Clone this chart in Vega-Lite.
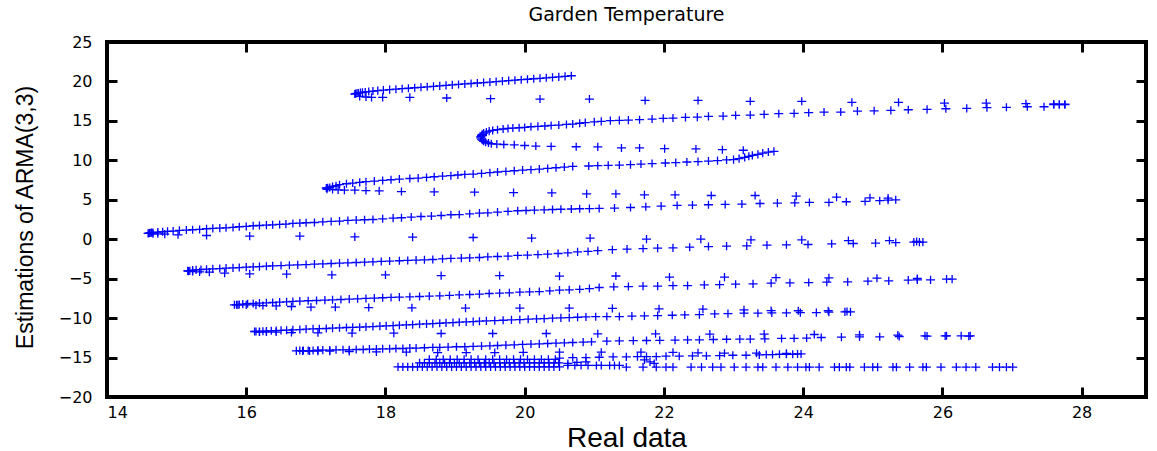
{
"$schema": "https://vega.github.io/schema/vega-lite/v6.json",
"width": 1039, "height": 355,
"autosize": {"type": "none"},
"padding": {"left": 107, "top": 42, "right": 11, "bottom": 54},
"background": "white",
"title": {"text": "Garden Temperature", "font": "DejaVu Sans", "fontSize": 19, "fontWeight": "normal", "color": "black", "offset": -6, "baseline": "alphabetic", "anchor": "middle"},
"config": {"view": {"stroke": "black", "strokeWidth": 4}},
"layer": [
{"data": {"values": [
{"x":17.56,"y":18.40},{"x":17.57,"y":18.45},{"x":17.59,"y":18.50},{"x":17.61,"y":18.53},{"x":17.64,"y":18.58},{"x":17.67,"y":18.62},{"x":17.71,"y":18.67},{"x":17.76,"y":18.72},{"x":17.82,"y":18.78},{"x":17.89,"y":18.84},{"x":17.97,"y":18.90},{"x":18.06,"y":18.96},{"x":18.15,"y":19.02},{"x":18.24,"y":19.08},{"x":18.33,"y":19.14},{"x":18.42,"y":19.20},{"x":18.51,"y":19.26},{"x":18.60,"y":19.32},{"x":18.69,"y":19.38},{"x":18.78,"y":19.44},{"x":18.87,"y":19.50},{"x":18.96,"y":19.56},{"x":19.05,"y":19.62},{"x":19.14,"y":19.68},{"x":19.23,"y":19.74},{"x":19.32,"y":19.80},{"x":19.41,"y":19.86},{"x":19.50,"y":19.92},{"x":19.59,"y":19.98},{"x":19.68,"y":20.04},{"x":19.77,"y":20.10},{"x":19.86,"y":20.16},{"x":19.95,"y":20.22},{"x":20.04,"y":20.28},{"x":20.13,"y":20.34},{"x":20.22,"y":20.40},{"x":20.31,"y":20.46},{"x":20.40,"y":20.52},{"x":20.49,"y":20.58},{"x":20.58,"y":20.64},{"x":20.67,"y":20.72},
{"x":17.63,"y":18.10},{"x":17.72,"y":18.03},{"x":17.80,"y":17.98},{"x":17.96,"y":17.98},{"x":18.35,"y":17.98},{"x":18.88,"y":17.90},{"x":19.51,"y":17.81},{"x":20.22,"y":17.77},{"x":20.93,"y":17.77},{"x":21.73,"y":17.59},{"x":22.49,"y":17.59},{"x":23.24,"y":17.48},{"x":23.98,"y":17.48},{"x":24.70,"y":17.35},{"x":25.37,"y":17.35},{"x":26.03,"y":17.26},{"x":26.63,"y":17.26},{"x":27.20,"y":17.18},{"x":27.60,"y":17.14},{"x":27.68,"y":17.11},{"x":27.76,"y":17.11},
{"x":27.76,"y":17.05},{"x":27.68,"y":17.05},{"x":27.60,"y":17.05},{"x":27.46,"y":16.79},{"x":27.22,"y":16.79},{"x":26.92,"y":16.72},{"x":26.64,"y":16.67},{"x":26.35,"y":16.59},{"x":26.05,"y":16.54},{"x":25.78,"y":16.46},{"x":25.51,"y":16.41},{"x":25.26,"y":16.33},{"x":25.02,"y":16.28},{"x":24.78,"y":16.24},{"x":24.54,"y":16.12},{"x":24.30,"y":16.12},{"x":24.08,"y":16.04},{"x":23.87,"y":15.95},{"x":23.65,"y":15.91},{"x":23.44,"y":15.83},{"x":23.24,"y":15.74},{"x":23.03,"y":15.70},{"x":22.85,"y":15.61},{"x":22.64,"y":15.57},{"x":22.48,"y":15.48},{"x":22.31,"y":15.45},{"x":22.13,"y":15.36},{"x":21.99,"y":15.32},{"x":21.83,"y":15.23},{"x":21.65,"y":15.15},{"x":21.49,"y":15.10},{"x":21.36,"y":15.06},{"x":21.23,"y":15.03},{"x":21.10,"y":14.94},{"x":21.00,"y":14.88},{"x":20.87,"y":14.78},{"x":20.79,"y":14.70},{"x":20.69,"y":14.60},{"x":20.60,"y":14.55},{"x":20.49,"y":14.47},{"x":20.38,"y":14.42},{"x":20.29,"y":14.35},{"x":20.19,"y":14.30},{"x":20.09,"y":14.26},{"x":20.00,"y":14.17},{"x":19.92,"y":14.13},{"x":19.83,"y":14.09},{"x":19.76,"y":14.04},{"x":19.69,"y":13.97},{"x":19.61,"y":13.88},{"x":19.54,"y":13.79},{"x":19.49,"y":13.70},{"x":19.45,"y":13.58},{"x":19.41,"y":13.45},{"x":19.39,"y":13.30},{"x":19.38,"y":13.15},{"x":19.37,"y":13.00},{"x":19.37,"y":12.85},{"x":19.38,"y":12.70},{"x":19.39,"y":12.55},{"x":19.41,"y":12.42},{"x":19.44,"y":12.30},{"x":19.48,"y":12.20},
{"x":19.52,"y":12.10},{"x":19.60,"y":12.06},{"x":19.70,"y":12.01},{"x":19.85,"y":11.97},{"x":20.00,"y":11.88},{"x":20.16,"y":11.81},{"x":20.38,"y":11.76},{"x":20.74,"y":11.72},{"x":21.05,"y":11.70},{"x":21.39,"y":11.57},{"x":21.65,"y":11.57},{"x":22.01,"y":11.48},{"x":22.46,"y":11.44},{"x":22.84,"y":11.35},{"x":23.14,"y":11.28},
{"x":23.58,"y":11.14},{"x":23.50,"y":11.05},{"x":23.42,"y":10.92},{"x":23.35,"y":10.76},{"x":23.27,"y":10.63},{"x":23.22,"y":10.51},{"x":23.16,"y":10.38},{"x":23.08,"y":10.22},{"x":23.00,"y":10.09},{"x":22.90,"y":10.05},{"x":22.77,"y":9.96},{"x":22.64,"y":9.91},{"x":22.49,"y":9.84},{"x":22.33,"y":9.79},{"x":22.17,"y":9.71},{"x":22.02,"y":9.66},{"x":21.83,"y":9.59},{"x":21.67,"y":9.53},{"x":21.52,"y":9.46},{"x":21.36,"y":9.40},{"x":21.20,"y":9.36},{"x":21.05,"y":9.32},{"x":20.92,"y":9.28},{"x":20.69,"y":9.23},{"x":20.57,"y":9.15},{"x":20.45,"y":9.06},{"x":20.33,"y":8.97},{"x":20.21,"y":8.89},{"x":20.09,"y":8.81},{"x":19.97,"y":8.77},{"x":19.85,"y":8.68},{"x":19.73,"y":8.59},{"x":19.61,"y":8.52},{"x":19.50,"y":8.43},{"x":19.38,"y":8.34},{"x":19.26,"y":8.26},{"x":19.14,"y":8.21},{"x":19.04,"y":8.14},{"x":18.94,"y":8.05},{"x":18.82,"y":8.01},{"x":18.70,"y":7.92},{"x":18.59,"y":7.83},{"x":18.47,"y":7.75},{"x":18.35,"y":7.70},{"x":18.20,"y":7.63},{"x":18.08,"y":7.54},{"x":17.96,"y":7.45},{"x":17.84,"y":7.37},{"x":17.72,"y":7.29},{"x":17.63,"y":7.20},{"x":17.53,"y":7.12},{"x":17.44,"y":7.03},{"x":17.34,"y":6.91},{"x":17.29,"y":6.78},{"x":17.24,"y":6.69},{"x":17.20,"y":6.56},{"x":17.17,"y":6.52},{"x":17.15,"y":6.49},{"x":17.16,"y":6.33},
{"x":17.24,"y":6.30},{"x":17.32,"y":6.26},{"x":17.41,"y":6.22},{"x":17.56,"y":6.22},{"x":17.72,"y":6.17},{"x":17.91,"y":6.13},{"x":18.23,"y":6.04},{"x":18.70,"y":6.00},{"x":19.28,"y":5.96},{"x":19.84,"y":5.91},{"x":20.39,"y":5.88},{"x":20.89,"y":5.75},{"x":21.31,"y":5.75},{"x":21.72,"y":5.62},{"x":22.16,"y":5.62},{"x":22.68,"y":5.54},{"x":23.31,"y":5.54},{"x":23.90,"y":5.46},{"x":24.48,"y":5.34},{"x":24.96,"y":5.25},{"x":25.22,"y":5.21},
{"x":25.33,"y":5.00},{"x":25.22,"y":4.96},{"x":25.10,"y":4.88},{"x":24.89,"y":4.79},{"x":24.62,"y":4.75},{"x":24.37,"y":4.66},{"x":24.09,"y":4.66},{"x":23.88,"y":4.62},{"x":23.63,"y":4.58},{"x":23.38,"y":4.53},{"x":23.12,"y":4.46},{"x":22.88,"y":4.41},{"x":22.64,"y":4.37},{"x":22.41,"y":4.33},{"x":22.19,"y":4.28},{"x":21.96,"y":4.20},{"x":21.74,"y":4.11},{"x":21.52,"y":4.02},{"x":21.29,"y":3.95},{"x":21.07,"y":3.90},{"x":20.93,"y":3.88},{"x":20.79,"y":3.86},{"x":20.67,"y":3.83},{"x":20.52,"y":3.80},{"x":20.40,"y":3.77},{"x":20.28,"y":3.73},{"x":20.14,"y":3.69},{"x":20.02,"y":3.64},{"x":19.90,"y":3.61},{"x":19.76,"y":3.52},{"x":19.61,"y":3.44},{"x":19.47,"y":3.35},{"x":19.35,"y":3.31},{"x":19.21,"y":3.22},{"x":19.06,"y":3.13},{"x":18.94,"y":3.10},{"x":18.80,"y":3.01},{"x":18.66,"y":2.94},{"x":18.51,"y":2.88},{"x":18.37,"y":2.81},{"x":18.23,"y":2.72},{"x":18.11,"y":2.68},{"x":17.96,"y":2.59},{"x":17.82,"y":2.50},{"x":17.70,"y":2.47},{"x":17.58,"y":2.43},{"x":17.46,"y":2.38},{"x":17.34,"y":2.30},{"x":17.22,"y":2.25},{"x":17.10,"y":2.21},{"x":16.98,"y":2.12},{"x":16.86,"y":2.09},{"x":16.77,"y":2.05},{"x":16.67,"y":2.00},{"x":16.57,"y":1.92},{"x":16.48,"y":1.87},{"x":16.38,"y":1.83},{"x":16.29,"y":1.79},{"x":16.19,"y":1.74},{"x":16.10,"y":1.71},{"x":16.00,"y":1.62},{"x":15.90,"y":1.58},{"x":15.81,"y":1.49},{"x":15.71,"y":1.45},{"x":15.62,"y":1.41},{"x":15.52,"y":1.37},{"x":15.43,"y":1.33},{"x":15.33,"y":1.24},{"x":15.23,"y":1.20},{"x":15.14,"y":1.16},{"x":15.04,"y":1.12},{"x":14.95,"y":1.03},{"x":14.87,"y":0.99},{"x":14.80,"y":0.95},{"x":14.73,"y":0.91},{"x":14.66,"y":0.86},{"x":14.64,"y":0.83},{"x":14.62,"y":0.80},{"x":14.61,"y":0.78},{"x":14.60,"y":0.75},{"x":14.59,"y":0.73},
{"x":14.66,"y":0.69},{"x":14.73,"y":0.69},{"x":14.83,"y":0.65},{"x":15.02,"y":0.56},{"x":15.43,"y":0.47},{"x":16.05,"y":0.39},{"x":16.77,"y":0.39},{"x":17.56,"y":0.30},{"x":18.39,"y":0.27},{"x":19.26,"y":0.22},{"x":20.10,"y":0.14},{"x":20.94,"y":0.14},{"x":21.75,"y":0.01},{"x":22.53,"y":0.01},{"x":23.25,"y":-0.08},{"x":23.98,"y":-0.08},{"x":24.65,"y":-0.17},{"x":25.24,"y":-0.17},{"x":25.63,"y":-0.29},
{"x":25.72,"y":-0.37},{"x":25.67,"y":-0.37},{"x":25.59,"y":-0.37},{"x":25.33,"y":-0.42},{"x":25.04,"y":-0.49},{"x":24.72,"y":-0.54},{"x":24.41,"y":-0.58},{"x":24.07,"y":-0.67},{"x":23.76,"y":-0.71},{"x":23.48,"y":-0.75},{"x":23.19,"y":-0.84},{"x":22.90,"y":-0.88},{"x":22.64,"y":-0.93},{"x":22.37,"y":-1.01},{"x":22.13,"y":-1.10},{"x":21.91,"y":-1.13},{"x":21.70,"y":-1.18},{"x":21.47,"y":-1.25},{"x":21.26,"y":-1.33},{"x":21.05,"y":-1.45},{"x":20.91,"y":-1.55},{"x":20.76,"y":-1.61},{"x":20.62,"y":-1.72},{"x":20.48,"y":-1.81},{"x":20.33,"y":-1.89},{"x":20.19,"y":-1.94},{"x":20.04,"y":-2.01},{"x":19.90,"y":-2.06},{"x":19.76,"y":-2.14},{"x":19.61,"y":-2.19},{"x":19.47,"y":-2.23},{"x":19.35,"y":-2.32},{"x":19.21,"y":-2.36},{"x":19.09,"y":-2.39},{"x":18.94,"y":-2.44},{"x":18.82,"y":-2.48},{"x":18.68,"y":-2.57},{"x":18.56,"y":-2.61},{"x":18.44,"y":-2.65},{"x":18.32,"y":-2.69},{"x":18.20,"y":-2.73},{"x":18.06,"y":-2.77},{"x":17.94,"y":-2.82},{"x":17.82,"y":-2.86},{"x":17.70,"y":-2.90},{"x":17.58,"y":-2.95},{"x":17.46,"y":-2.99},{"x":17.34,"y":-3.03},{"x":17.22,"y":-3.08},{"x":17.10,"y":-3.12},{"x":16.98,"y":-3.16},{"x":16.86,"y":-3.21},{"x":16.74,"y":-3.25},{"x":16.62,"y":-3.29},{"x":16.50,"y":-3.34},{"x":16.38,"y":-3.38},{"x":16.29,"y":-3.42},{"x":16.19,"y":-3.47},{"x":16.10,"y":-3.51},{"x":16.00,"y":-3.54},{"x":15.90,"y":-3.59},{"x":15.81,"y":-3.63},{"x":15.71,"y":-3.67},{"x":15.62,"y":-3.72},{"x":15.52,"y":-3.76},{"x":15.43,"y":-3.80},{"x":15.35,"y":-3.85},{"x":15.28,"y":-3.88},{"x":15.23,"y":-3.92},{"x":15.19,"y":-4.01},{"x":15.16,"y":-4.01},{"x":15.17,"y":-4.05},
{"x":15.23,"y":-4.10},{"x":15.33,"y":-4.14},{"x":15.47,"y":-4.18},{"x":15.69,"y":-4.30},{"x":16.05,"y":-4.39},{"x":16.58,"y":-4.43},{"x":17.23,"y":-4.52},{"x":18.00,"y":-4.52},{"x":18.80,"y":-4.61},{"x":19.64,"y":-4.61},{"x":20.50,"y":-4.68},{"x":21.31,"y":-4.66},{"x":22.08,"y":-4.81},{"x":22.87,"y":-4.81},{"x":23.61,"y":-4.88},{"x":24.37,"y":-4.90},{"x":25.06,"y":-4.94},{"x":25.64,"y":-4.98},
{"x":26.14,"y":-5.06},{"x":26.06,"y":-5.06},{"x":25.83,"y":-5.15},{"x":25.64,"y":-5.15},{"x":25.51,"y":-5.19},{"x":25.23,"y":-5.28},{"x":24.93,"y":-5.32},{"x":24.64,"y":-5.41},{"x":24.34,"y":-5.44},{"x":24.08,"y":-5.49},{"x":23.81,"y":-5.53},{"x":23.54,"y":-5.57},{"x":23.28,"y":-5.66},{"x":23.03,"y":-5.70},{"x":22.80,"y":-5.75},{"x":22.58,"y":-5.79},{"x":22.34,"y":-5.88},{"x":22.13,"y":-5.88},{"x":21.91,"y":-5.95},{"x":21.70,"y":-5.95},{"x":21.49,"y":-6.00},{"x":21.28,"y":-6.03},{"x":21.07,"y":-6.12},{"x":20.93,"y":-6.25},{"x":20.79,"y":-6.35},{"x":20.64,"y":-6.41},{"x":20.50,"y":-6.45},{"x":20.36,"y":-6.54},{"x":20.21,"y":-6.63},{"x":20.07,"y":-6.67},{"x":19.93,"y":-6.71},{"x":19.78,"y":-6.79},{"x":19.64,"y":-6.83},{"x":19.49,"y":-6.88},{"x":19.35,"y":-6.96},{"x":19.21,"y":-7.01},{"x":19.06,"y":-7.05},{"x":18.92,"y":-7.13},{"x":18.78,"y":-7.17},{"x":18.63,"y":-7.21},{"x":18.49,"y":-7.26},{"x":18.35,"y":-7.30},{"x":18.20,"y":-7.34},{"x":18.08,"y":-7.38},{"x":17.96,"y":-7.42},{"x":17.84,"y":-7.47},{"x":17.72,"y":-7.51},{"x":17.60,"y":-7.55},{"x":17.48,"y":-7.59},{"x":17.36,"y":-7.64},{"x":17.24,"y":-7.68},{"x":17.13,"y":-7.72},{"x":17.01,"y":-7.77},{"x":16.89,"y":-7.80},{"x":16.77,"y":-7.85},{"x":16.67,"y":-7.89},{"x":16.58,"y":-7.93},{"x":16.48,"y":-7.97},{"x":16.38,"y":-8.02},{"x":16.29,"y":-8.06},{"x":16.19,"y":-8.10},{"x":16.10,"y":-8.15},{"x":16.02,"y":-8.18},{"x":15.95,"y":-8.23},{"x":15.90,"y":-8.28},{"x":15.86,"y":-8.31},{"x":15.83,"y":-8.31},
{"x":15.88,"y":-8.32},{"x":16.00,"y":-8.32},{"x":16.14,"y":-8.36},{"x":16.24,"y":-8.41},{"x":16.43,"y":-8.45},{"x":16.65,"y":-8.53},{"x":16.93,"y":-8.61},{"x":17.28,"y":-8.61},{"x":17.76,"y":-8.66},{"x":18.38,"y":-8.69},{"x":19.15,"y":-8.73},{"x":19.93,"y":-8.73},{"x":20.64,"y":-8.73},{"x":21.26,"y":-8.76},{"x":21.93,"y":-8.82},{"x":22.56,"y":-8.86},{"x":23.15,"y":-8.95},{"x":23.54,"y":-9.04},{"x":23.93,"y":-9.07},{"x":24.36,"y":-9.07},{"x":24.63,"y":-9.16},
{"x":24.68,"y":-9.21},{"x":24.60,"y":-9.21},{"x":24.37,"y":-9.25},{"x":24.19,"y":-9.30},{"x":23.96,"y":-9.30},{"x":23.76,"y":-9.34},{"x":23.55,"y":-9.34},{"x":23.35,"y":-9.38},{"x":23.15,"y":-9.38},{"x":22.92,"y":-9.43},{"x":22.73,"y":-9.47},{"x":22.51,"y":-9.56},{"x":22.30,"y":-9.60},{"x":22.12,"y":-9.64},{"x":21.91,"y":-9.69},{"x":21.72,"y":-9.72},{"x":21.54,"y":-9.75},{"x":21.36,"y":-9.80},{"x":21.18,"y":-9.80},{"x":21.02,"y":-9.82},{"x":20.88,"y":-9.85},{"x":20.76,"y":-9.89},{"x":20.64,"y":-9.94},{"x":20.52,"y":-9.97},{"x":20.40,"y":-10.01},{"x":20.28,"y":-10.06},{"x":20.17,"y":-10.10},{"x":20.05,"y":-10.14},{"x":19.93,"y":-10.19},{"x":19.81,"y":-10.22},{"x":19.69,"y":-10.27},{"x":19.57,"y":-10.32},{"x":19.45,"y":-10.35},{"x":19.35,"y":-10.39},{"x":19.26,"y":-10.44},{"x":19.16,"y":-10.48},{"x":19.06,"y":-10.52},{"x":18.97,"y":-10.57},{"x":18.87,"y":-10.61},{"x":18.78,"y":-10.65},{"x":18.68,"y":-10.70},{"x":18.59,"y":-10.73},{"x":18.49,"y":-10.77},{"x":18.39,"y":-10.82},{"x":18.30,"y":-10.86},{"x":18.20,"y":-10.90},{"x":18.11,"y":-10.95},{"x":18.01,"y":-10.98},{"x":17.92,"y":-11.02},{"x":17.82,"y":-11.07},{"x":17.72,"y":-11.11},{"x":17.63,"y":-11.15},{"x":17.53,"y":-11.17},{"x":17.44,"y":-11.19},{"x":17.34,"y":-11.23},{"x":17.24,"y":-11.27},{"x":17.15,"y":-11.32},{"x":17.05,"y":-11.34},{"x":16.96,"y":-11.37},{"x":16.86,"y":-11.40},{"x":16.77,"y":-11.45},{"x":16.67,"y":-11.49},{"x":16.58,"y":-11.53},{"x":16.50,"y":-11.56},{"x":16.43,"y":-11.58},{"x":16.36,"y":-11.61},{"x":16.29,"y":-11.64},{"x":16.24,"y":-11.66},{"x":16.19,"y":-11.70},{"x":16.14,"y":-11.70},{"x":16.12,"y":-11.70},
{"x":16.19,"y":-11.77},{"x":16.29,"y":-11.77},{"x":16.43,"y":-11.77},{"x":16.65,"y":-11.83},{"x":17.03,"y":-11.86},{"x":17.52,"y":-11.90},{"x":18.12,"y":-11.90},{"x":18.80,"y":-11.95},{"x":19.54,"y":-11.95},{"x":20.31,"y":-11.95},{"x":21.05,"y":-11.99},{"x":21.88,"y":-11.99},{"x":22.66,"y":-12.03},{"x":23.44,"y":-12.03},{"x":24.16,"y":-12.08},{"x":24.81,"y":-12.12},{"x":25.36,"y":-12.16},{"x":25.75,"y":-12.24},{"x":26.06,"y":-12.24},{"x":26.38,"y":-12.28},
{"x":26.40,"y":-12.24},{"x":26.27,"y":-12.24},{"x":26.04,"y":-12.26},{"x":25.78,"y":-12.28},{"x":25.38,"y":-12.33},{"x":25.10,"y":-12.37},{"x":24.81,"y":-12.39},{"x":24.55,"y":-12.41},{"x":24.26,"y":-12.46},{"x":24.05,"y":-12.53},{"x":23.87,"y":-12.56},{"x":23.69,"y":-12.58},{"x":23.45,"y":-12.62},{"x":23.24,"y":-12.66},{"x":23.09,"y":-12.66},{"x":22.90,"y":-12.68},{"x":22.71,"y":-12.71},{"x":22.51,"y":-12.75},{"x":22.34,"y":-12.76},{"x":22.16,"y":-12.79},{"x":21.94,"y":-12.81},{"x":21.75,"y":-12.84},{"x":21.56,"y":-12.86},{"x":21.36,"y":-12.88},{"x":21.18,"y":-12.92},{"x":20.96,"y":-13.00},{"x":20.84,"y":-13.04},{"x":20.69,"y":-13.09},{"x":20.57,"y":-13.13},{"x":20.45,"y":-13.17},{"x":20.33,"y":-13.22},{"x":20.21,"y":-13.26},{"x":20.09,"y":-13.29},{"x":19.97,"y":-13.34},{"x":19.85,"y":-13.38},{"x":19.73,"y":-13.42},{"x":19.61,"y":-13.47},{"x":19.50,"y":-13.51},{"x":19.38,"y":-13.54},{"x":19.26,"y":-13.59},{"x":19.14,"y":-13.63},{"x":19.02,"y":-13.63},{"x":18.90,"y":-13.67},{"x":18.78,"y":-13.72},{"x":18.68,"y":-13.72},{"x":18.56,"y":-13.76},{"x":18.44,"y":-13.80},{"x":18.35,"y":-13.80},{"x":18.25,"y":-13.85},{"x":18.15,"y":-13.85},{"x":18.06,"y":-13.89},{"x":17.96,"y":-13.89},{"x":17.87,"y":-13.93},{"x":17.77,"y":-13.93},{"x":17.68,"y":-13.98},{"x":17.58,"y":-13.98},{"x":17.48,"y":-14.02},{"x":17.39,"y":-14.02},{"x":17.29,"y":-14.02},{"x":17.20,"y":-14.06},{"x":17.10,"y":-14.06},{"x":17.03,"y":-14.06},{"x":16.96,"y":-14.11},{"x":16.89,"y":-14.11},{"x":16.82,"y":-14.11},{"x":16.77,"y":-14.11},{"x":16.72,"y":-14.15},
{"x":16.81,"y":-14.17},{"x":16.91,"y":-14.17},{"x":17.03,"y":-14.19},{"x":17.20,"y":-14.19},{"x":17.48,"y":-14.24},{"x":17.87,"y":-14.28},{"x":18.30,"y":-14.32},{"x":18.75,"y":-14.37},{"x":19.16,"y":-14.37},{"x":19.57,"y":-14.37},{"x":19.98,"y":-14.34},{"x":20.50,"y":-14.32},{"x":21.10,"y":-14.32},{"x":21.67,"y":-14.32},{"x":22.13,"y":-14.34},{"x":22.49,"y":-14.41},{"x":22.87,"y":-14.45},{"x":23.33,"y":-14.45},{"x":23.76,"y":-14.47},
{"x":23.97,"y":-14.54},{"x":23.92,"y":-14.54},{"x":23.85,"y":-14.58},{"x":23.76,"y":-14.58},{"x":23.66,"y":-14.58},{"x":23.56,"y":-14.62},{"x":23.47,"y":-14.62},{"x":23.37,"y":-14.67},{"x":23.18,"y":-14.71},{"x":22.99,"y":-14.71},{"x":22.80,"y":-14.75},{"x":22.61,"y":-14.79},{"x":22.41,"y":-14.79},{"x":22.22,"y":-14.83},{"x":22.03,"y":-14.83},{"x":21.89,"y":-14.88},{"x":21.75,"y":-14.88},{"x":21.62,"y":-14.88},{"x":21.46,"y":-14.92},{"x":21.27,"y":-14.92},{"x":21.07,"y":-14.96},{"x":20.88,"y":-15.00},{"x":20.69,"y":-15.00},{"x":20.50,"y":-15.08},
{"x":18.63,"y":-15.23},{"x":18.73,"y":-15.23},{"x":18.83,"y":-15.23},{"x":18.93,"y":-15.23},{"x":19.03,"y":-15.23},{"x":19.13,"y":-15.23},{"x":19.23,"y":-15.23},{"x":19.33,"y":-15.23},{"x":19.44,"y":-15.23},{"x":19.54,"y":-15.23},{"x":19.64,"y":-15.23},{"x":19.74,"y":-15.23},{"x":19.84,"y":-15.23},{"x":19.94,"y":-15.23},{"x":20.04,"y":-15.23},{"x":20.14,"y":-15.23},{"x":20.24,"y":-15.23},{"x":20.34,"y":-15.23},{"x":20.44,"y":-15.23},
{"x":18.49,"y":-15.67},{"x":18.56,"y":-15.67},{"x":18.63,"y":-15.67},{"x":18.71,"y":-15.67},{"x":18.78,"y":-15.67},{"x":18.85,"y":-15.67},{"x":18.92,"y":-15.67},{"x":18.99,"y":-15.67},{"x":19.06,"y":-15.67},{"x":19.13,"y":-15.67},{"x":19.21,"y":-15.67},{"x":19.28,"y":-15.67},{"x":19.35,"y":-15.67},{"x":19.42,"y":-15.67},{"x":19.49,"y":-15.67},{"x":19.56,"y":-15.67},{"x":19.64,"y":-15.67},{"x":19.71,"y":-15.67},{"x":19.78,"y":-15.67},{"x":19.85,"y":-15.67},{"x":19.92,"y":-15.67},{"x":19.99,"y":-15.67},{"x":20.07,"y":-15.67},{"x":20.14,"y":-15.67},{"x":20.21,"y":-15.67},{"x":20.28,"y":-15.67},{"x":20.35,"y":-15.67},{"x":20.42,"y":-15.67},{"x":20.49,"y":-15.67},
{"x":18.18,"y":-16.18},{"x":18.25,"y":-16.18},{"x":18.32,"y":-16.18},{"x":18.39,"y":-16.18},{"x":18.46,"y":-16.18},{"x":18.53,"y":-16.18},{"x":18.60,"y":-16.18},{"x":18.67,"y":-16.18},{"x":18.74,"y":-16.18},{"x":18.81,"y":-16.18},{"x":18.88,"y":-16.18},{"x":18.95,"y":-16.18},{"x":19.02,"y":-16.18},{"x":19.09,"y":-16.18},{"x":19.16,"y":-16.18},{"x":19.23,"y":-16.18},{"x":19.30,"y":-16.18},{"x":19.37,"y":-16.18},{"x":19.44,"y":-16.18},{"x":19.51,"y":-16.18},{"x":19.58,"y":-16.18},{"x":19.65,"y":-16.18},{"x":19.72,"y":-16.18},{"x":19.79,"y":-16.18},{"x":19.86,"y":-16.18},{"x":19.93,"y":-16.18},{"x":20.00,"y":-16.18},{"x":20.07,"y":-16.18},{"x":20.14,"y":-16.18},{"x":20.21,"y":-16.18},{"x":20.28,"y":-16.18},{"x":20.35,"y":-16.18},{"x":20.42,"y":-16.18},{"x":20.50,"y":-16.18},
{"x":20.62,"y":-16.00},{"x":20.72,"y":-16.00},{"x":20.81,"y":-16.00},{"x":20.91,"y":-16.00},{"x":21.03,"y":-16.00},{"x":21.10,"y":-16.00},{"x":21.22,"y":-16.00},{"x":21.29,"y":-16.00},{"x":21.36,"y":-16.00},
{"x":21.46,"y":-16.21},{"x":21.70,"y":-16.21},{"x":21.89,"y":-16.21},{"x":22.03,"y":-16.21},{"x":22.13,"y":-16.21},{"x":22.39,"y":-16.21},{"x":22.54,"y":-16.21},{"x":22.70,"y":-16.21},{"x":22.82,"y":-16.21},{"x":23.01,"y":-16.21},{"x":23.18,"y":-16.21},{"x":23.35,"y":-16.21},{"x":23.42,"y":-16.21},{"x":23.61,"y":-16.21},{"x":23.78,"y":-16.21},{"x":23.92,"y":-16.21},{"x":24.04,"y":-16.21},{"x":24.09,"y":-16.21},{"x":24.23,"y":-16.21},{"x":24.45,"y":-16.21},{"x":24.52,"y":-16.21},{"x":24.62,"y":-16.21},{"x":24.67,"y":-16.21},{"x":24.88,"y":-16.21},{"x":25.00,"y":-16.21},{"x":25.07,"y":-16.21},{"x":25.29,"y":-16.21},{"x":25.34,"y":-16.21},{"x":25.53,"y":-16.21},{"x":25.72,"y":-16.21},{"x":25.77,"y":-16.21},{"x":25.98,"y":-16.21},{"x":26.20,"y":-16.21},{"x":26.34,"y":-16.21},{"x":26.48,"y":-16.21},{"x":26.72,"y":-16.21},{"x":26.82,"y":-16.21},{"x":26.92,"y":-16.21},{"x":27.01,"y":-16.21},
{"x":20.62,"y":-15.75},{"x":20.75,"y":-15.60},{"x":20.88,"y":-15.55},{"x":21.72,"y":-15.30},{"x":21.80,"y":-15.55},{"x":21.86,"y":-15.75}
]},
"mark": {"type": "point", "shape": "M-1,0L1,0M0,-0.9L0,0.9", "size": 81, "filled": false, "stroke": "#0000ff", "strokeWidth": 1.3, "opacity": 1},
"encoding": {
"x": {"field": "x", "type": "quantitative", "scale": {"domain": [14, 28.925], "nice": false, "zero": false},
 "axis": {"orient": "bottom", "values": [14,16,18,20,22,24,26,28], "tickSize": -10, "tickWidth": 3, "tickColor": "black", "domain": false, "grid": false, "labelFont": "DejaVu Sans", "labelFontSize": 16, "labelColor": "black", "labelPadding": 17, "title": "Real data", "titleFont": "Liberation Sans", "titleFontSize": 28, "titleFontWeight": "normal", "titleColor": "black", "titleY": 49, "titleBaseline": "alphabetic"}},
"y": {"field": "y", "type": "quantitative", "scale": {"domain": [-20, 25], "nice": false, "zero": false},
 "axis": {"orient": "left", "values": [-20,-15,-10,-5,0,5,10,15,20,25], "tickSize": -10, "tickWidth": 3, "tickColor": "black", "domain": false, "grid": false, "labelFont": "DejaVu Sans", "labelFontSize": 16, "labelColor": "black", "labelPadding": 25, "title": "Estimations of ARMA(3,3)", "titleFont": "Liberation Sans", "titleFontSize": 23, "titleFontWeight": "normal", "titleColor": "black", "titleX": -82, "titleY": 175, "titleAngle": -90, "titleAlign": "center", "titleBaseline": "middle"}}
}},
{"data": {"values": [{"x": 14, "y": -20}]},
"mark": {"type": "point", "opacity": 0},
"encoding": {
"x": {"field": "x", "type": "quantitative", "scale": {"domain": [14, 28.925], "nice": false, "zero": false},
 "axis": {"orient": "top", "values": [14,16,18,20,22,24,26,28], "tickSize": -10, "tickWidth": 3, "tickColor": "black", "domain": false, "grid": false, "labels": false, "title": null}},
"y": {"field": "y", "type": "quantitative", "scale": {"domain": [-20, 25], "nice": false, "zero": false},
 "axis": {"orient": "right", "values": [-20,-15,-10,-5,0,5,10,15,20,25], "tickSize": -10, "tickWidth": 3, "tickColor": "black", "domain": false, "grid": false, "labels": false, "title": null}}
}}
],
"resolve": {"axis": {"x": "independent", "y": "independent"}}
}
